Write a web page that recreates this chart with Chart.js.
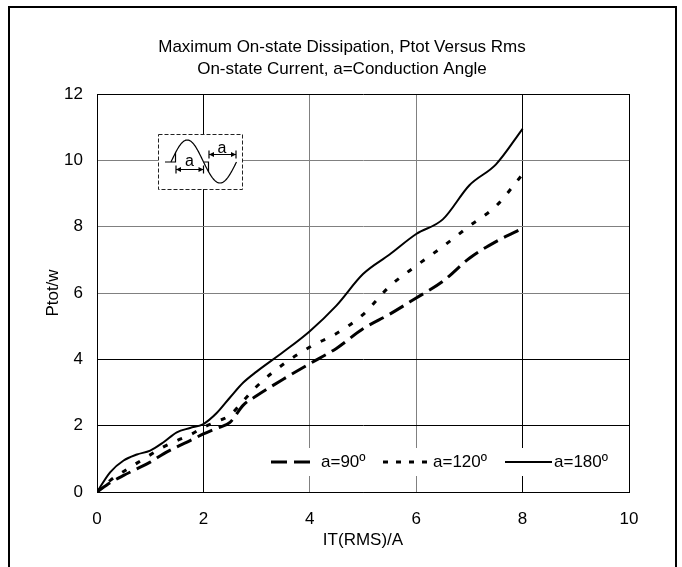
<!DOCTYPE html>
<html>
<head>
<meta charset="utf-8">
<script src="https://cdn.jsdelivr.net/npm/chart.js@4"></script>
<style>
  html, body { margin: 0; padding: 0; background: #fff; }
  #wrap { position: relative; width: 682px; height: 567px; overflow: hidden; }
  #chart { display: block; }
  #frame { position: absolute; left: 8px; top: 6px; width: 665px; height: 620px; border: 2px solid #000; pointer-events: none; }
</style>
</head>
<body>
<div id="wrap">
  <canvas id="chart" width="682" height="567"></canvas>
  <div id="frame"></div>
</div>
<script>
// dữ liệu
const titleLines = ['Maximum On-state Dissipation, Ptot Versus Rms', 'On-state Current, a=Conduction Angle'];
const seriesLabels = ['a=90º', 'a=120º', 'a=180º'];
const currentX = [0, 0.25, 0.5, 0.75, 1, 1.25, 1.5, 1.75, 2, 2.25, 2.5, 2.75, 3, 3.5, 4, 4.5, 5, 5.5, 6, 6.5, 7, 7.5, 8];
const ptot90  = [0, 0.28, 0.5, 0.7, 0.9, 1.15, 1.36, 1.55, 1.75, 1.92, 2.1, 2.62, 2.9, 3.4, 3.87, 4.33, 4.92, 5.36, 5.85, 6.35, 7.05, 7.55, 7.95];
const ptot120 = [0, 0.35, 0.62, 0.87, 1.12, 1.36, 1.55, 1.72, 1.95, 2.12, 2.32, 2.75, 3.18, 3.85, 4.37, 4.78, 5.35, 6.2, 6.82, 7.4, 8.02, 8.62, 9.58];
const ptot180 = [0, 0.6, 0.95, 1.13, 1.25, 1.5, 1.8, 1.93, 2.05, 2.38, 2.85, 3.3, 3.63, 4.22, 4.85, 5.62, 6.57, 7.16, 7.78, 8.22, 9.25, 9.88, 10.95];
const xMax = 10, yMax = 12, tickStep = 2;

const FONT = "'Liberation Sans', Arial, sans-serif";
const pts = ys => currentX.map((x, i) => ({ x: x, y: ys[i] }));

// tiêu đề vẽ tay để căn giữa theo cả khung
const titlePlugin = {
  id: 'twoLineTitle',
  afterDraw(chart) {
    const ctx = chart.ctx;
    ctx.save();
    ctx.fillStyle = '#000';
    ctx.font = '17px ' + FONT;
    ctx.textAlign = 'center';
    ctx.textBaseline = 'middle';
    ctx.fillText(titleLines[0], 342, 47);
    ctx.fillText(titleLines[1], 342, 69);
    ctx.restore();
  }
};

// chú thích nằm trong vùng vẽ
const legendPlugin = {
  id: 'insideLegend',
  afterDatasetsDraw(chart) {
    const ctx = chart.ctx;
    const slots = [[271, 313, 321, [16, 7]], [383, 427, 433, [5, 8]], [505, 552, 554, []]];
    const y = 462;
    ctx.save();
    ctx.fillStyle = '#fff';
    ctx.fillRect(262, 448, 354, 28);
    chart.data.datasets.forEach((ds, i) => {
      const s = slots[i];
      ctx.strokeStyle = '#000';
      ctx.lineWidth = ds.borderWidth;
      ctx.lineCap = 'butt';
      ctx.setLineDash(s[3]);
      ctx.beginPath();
      ctx.moveTo(s[0], y);
      ctx.lineTo(s[1], y);
      ctx.stroke();
      ctx.setLineDash([]);
      ctx.fillStyle = '#000';
      ctx.font = '17px ' + FONT;
      ctx.textAlign = 'left';
      ctx.textBaseline = 'middle';
      ctx.fillText(ds.label, s[2], y);
    });
    ctx.restore();
  }
};

// hình nhỏ minh hoạ góc dẫn
const insetPlugin = {
  id: 'angleInset',
  afterDatasetsDraw(chart) {
    const ctx = chart.ctx;
    const base = 162;
    ctx.save();
    ctx.fillStyle = '#fff';
    ctx.fillRect(158, 134, 84, 55);
    ctx.strokeStyle = '#222';
    ctx.lineWidth = 1;
    ctx.setLineDash([4, 2]);
    ctx.strokeRect(158.5, 134.5, 84, 55);
    ctx.setLineDash([]);

    ctx.strokeStyle = '#000';
    ctx.lineWidth = 1.2;
    // nửa dương
    ctx.beginPath();
    for (let t = 0; t <= 1.0001; t += 0.02) {
      const x = 171 + t * 32.5, yy = base - 22 * Math.sin(Math.PI * t);
      if (t === 0) ctx.moveTo(x, yy); else ctx.lineTo(x, yy);
    }
    ctx.stroke();
    // nửa âm
    ctx.beginPath();
    for (let t = 0; t <= 1.0001; t += 0.02) {
      const x = 203.5 + t * 33, yy = base + 21 * Math.sin(Math.PI * t);
      if (t === 0) ctx.moveTo(x, yy); else ctx.lineTo(x, yy);
    }
    ctx.stroke();
    // đường nền và điểm kích
    ctx.beginPath();
    ctx.moveTo(165, base); ctx.lineTo(175.5, base);
    ctx.lineTo(175.5, base - 22 * Math.sin(Math.PI * 4.5 / 32.5));
    ctx.moveTo(203.5, base); ctx.lineTo(208.5, base);
    ctx.lineTo(208.5, base + 21 * Math.sin(Math.PI * 5 / 33));
    ctx.stroke();

    function arrow(x1, x2, y) {
      ctx.beginPath();
      ctx.moveTo(x1, y); ctx.lineTo(x2, y);
      ctx.moveTo(x1, y - 4); ctx.lineTo(x1, y + 4);
      ctx.moveTo(x2, y - 4); ctx.lineTo(x2, y + 4);
      ctx.stroke();
      ctx.beginPath();
      ctx.moveTo(x1, y); ctx.lineTo(x1 + 5, y - 2.5); ctx.lineTo(x1 + 5, y + 2.5); ctx.closePath();
      ctx.moveTo(x2, y); ctx.lineTo(x2 - 5, y - 2.5); ctx.lineTo(x2 - 5, y + 2.5); ctx.closePath();
      ctx.fill();
    }
    ctx.fillStyle = '#000';
    arrow(176, 203.5, 169.5);
    arrow(209, 236, 154.5);
    ctx.font = '16px ' + FONT;
    ctx.textAlign = 'center';
    ctx.textBaseline = 'middle';
    ctx.fillText('a', 189.5, 162);
    ctx.fillText('a', 222, 148.5);
    ctx.restore();
  }
};

const xBlack = v => (v === 0 || v === 2 || v === 8 || v === 10);
const yBlack = v => (v === 0 || v === 2 || v === 4 || v === 12);

new Chart(document.getElementById('chart'), {
  type: 'line',
  data: {
    datasets: [{
      label: seriesLabels[0],
      data: pts(ptot90),
      borderColor: '#000',
      borderWidth: 3,
      borderDash: [16, 7],
      pointRadius: 0,
      cubicInterpolationMode: 'monotone',
      fill: false
    }, {
      label: seriesLabels[1],
      data: pts(ptot120),
      borderColor: '#000',
      borderWidth: 3,
      borderDash: [5, 11],
      pointRadius: 0,
      cubicInterpolationMode: 'monotone',
      fill: false
    }, {
      label: seriesLabels[2],
      data: pts(ptot180),
      borderColor: '#000',
      borderWidth: 2,
      pointRadius: 0,
      cubicInterpolationMode: 'monotone',
      fill: false
    }]
  },
  options: {
    responsive: false,
    animation: false,
    layout: { padding: { top: 94, right: 53, left: 0, bottom: 0 } },
    plugins: { legend: { display: false }, tooltip: { enabled: false } },
    scales: {
      x: {
        type: 'linear', min: 0, max: xMax,
        ticks: { stepSize: tickStep, color: '#000', font: { size: 17, family: FONT }, padding: 17, maxRotation: 0 },
        grid: { drawTicks: false, color: c => xBlack(c.tick.value) ? '#000' : '#808080' },
        border: { color: '#000', width: 1 },
        title: { display: true, text: 'IT(RMS)/A', color: '#000', font: { size: 17, family: FONT }, padding: { top: 0, bottom: 16 } },
        afterFit: s => { s.height = 75; }
      },
      y: {
        min: 0, max: yMax,
        ticks: { stepSize: tickStep, color: '#000', font: { size: 17, family: FONT }, padding: 14 },
        grid: { drawTicks: false, color: c => yBlack(c.tick.value) ? '#000' : '#808080' },
        border: { color: '#000', width: 1 },
        title: { display: true, text: 'Ptot/w', color: '#000', font: { size: 17, family: FONT }, padding: { top: 43, bottom: 0 } },
        afterFit: s => { s.width = 97; }
      }
    }
  },
  plugins: [titlePlugin, legendPlugin, insetPlugin]
});
</script>
</body>
</html>
